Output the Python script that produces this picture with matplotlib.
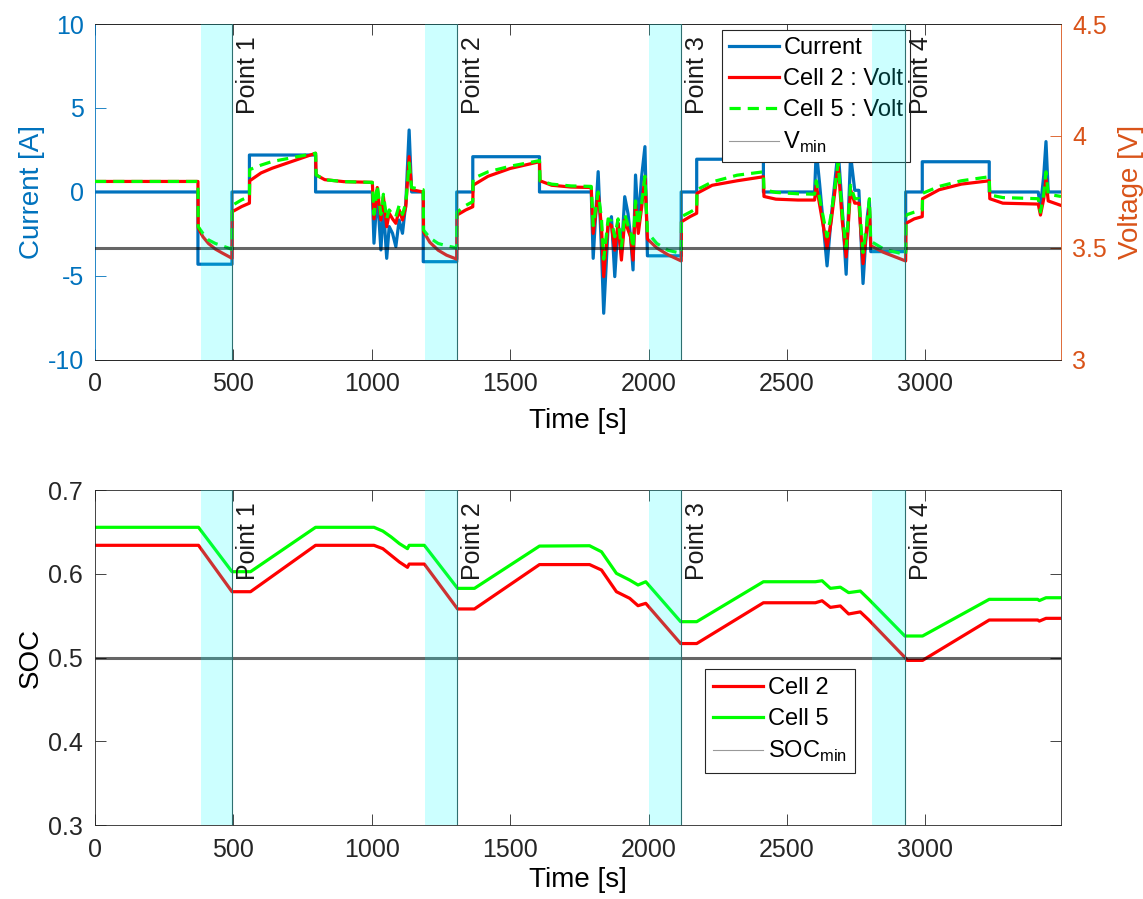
import matplotlib
matplotlib.use("Agg")
import matplotlib.pyplot as plt
from matplotlib.lines import Line2D
from matplotlib.ticker import FormatStrFormatter

plt.rcParams['font.family'] = ['Liberation Sans', 'DejaVu Sans']
plt.rcParams['mathtext.fontset'] = 'custom'
plt.rcParams['mathtext.rm'] = 'Liberation Sans'
plt.rcParams['axes.unicode_minus'] = False

# current profile [A]
t_cur = [0, 372, 372, 495, 495, 558, 558, 797, 797, 1002,
         1008, 1020, 1033, 1042, 1054, 1063, 1075, 1087, 1099, 1111,
         1123, 1135, 1144, 1186, 1186, 1307, 1307, 1365, 1365, 1606,
         1606, 1793, 1800, 1818, 1830, 1838, 1854, 1866, 1878, 1890,
         1902, 1914, 1926, 1935, 1944, 1953, 1963, 1975, 1987, 1996,
         2118, 2118, 2174, 2174, 2415, 2415, 2600, 2606, 2618, 2645,
         2660, 2685, 2700, 2714, 2730, 2745, 2760, 2775, 2790, 2798,
         2803, 2929, 2929, 2989, 2989, 3231, 3231, 3408, 3416, 3428,
         3436, 3444, 3490]
current = [0, 0, -4.3, -4.3, 0, 0, 2.2, 2.2, 0, 0,
           -3.05, 0, -3.45, -0.87, -3.95, -2.06, -2.46, -3.25, -1.67, -2.46,
           -0.67, 3.69, 0, 0, -4.15, -4.15, 0, 0, 2.1, 2.1,
           0, 0, -3.95, 1.21, -3.45, -7.22, -2.06, -1.47, -5.04, -1.86,
           -3.65, -0.28, -1.3, -2.66, -4.64, 1.01, -1.86, 0.91, 2.7, -3.8,
           -3.8, 0, 0, 1.95, 1.95, 0, 0, 2.5, 0.5, -4.4,
           -1.5, 2.5, -1.0, -4.9, 2.2, 0.1, 0.1, -5.45, -1.5, -0.5,
           -3.55, -3.55, 0, 0, 1.8, 1.8, 0, 0, -0.9, 1.0,
           3.0, 0, 0]

# cell voltages [V]
t_volt = [0, 372, 373, 390, 410, 435, 459, 495, 496, 530,
          558, 559, 600, 640, 720, 797, 799, 830, 900, 1002,
          1008, 1020, 1033, 1042, 1054, 1063, 1075, 1087, 1099, 1111,
          1123, 1135, 1144, 1186, 1187, 1210, 1240, 1270, 1307, 1308,
          1340, 1365, 1366, 1420, 1500, 1606, 1608, 1650, 1720, 1793,
          1800, 1818, 1830, 1838, 1854, 1866, 1878, 1890, 1902, 1914,
          1926, 1935, 1944, 1953, 1963, 1975, 1987, 1996, 2030, 2070,
          2118, 2119, 2150, 2174, 2175, 2230, 2320, 2415, 2417, 2460,
          2540, 2600, 2606, 2645, 2660, 2685, 2700, 2714, 2730, 2745,
          2760, 2775, 2790, 2798, 2803, 2850, 2929, 2930, 2960, 2989,
          2990, 3050, 3130, 3231, 3233, 3280, 3408, 3416, 3428, 3436,
          3444, 3490]
volt_cell2 = [3.797, 3.797, 3.59, 3.55, 3.52, 3.495, 3.478, 3.454, 3.662, 3.685,
              3.70, 3.80, 3.835, 3.856, 3.89, 3.923, 3.826, 3.805, 3.796, 3.793,
              3.63, 3.77, 3.625, 3.73, 3.595, 3.655, 3.63, 3.61, 3.67, 3.625,
              3.684, 3.908, 3.76, 3.75, 3.573, 3.525, 3.49, 3.468, 3.45, 3.647,
              3.67, 3.684, 3.78, 3.82, 3.855, 3.885, 3.80, 3.78, 3.772, 3.77,
              3.565, 3.744, 3.595, 3.372, 3.61, 3.60, 3.49, 3.61, 3.446, 3.625,
              3.58, 3.55, 3.446, 3.70, 3.565, 3.68, 3.82, 3.54, 3.50, 3.47,
              3.442, 3.617, 3.64, 3.655, 3.744, 3.78, 3.80, 3.818, 3.73, 3.718,
              3.714, 3.714, 3.78, 3.50, 3.62, 3.87, 3.62, 3.46, 3.76, 3.70,
              3.70, 3.43, 3.60, 3.68, 3.51, 3.48, 3.442, 3.61, 3.63, 3.64,
              3.72, 3.76, 3.785, 3.80, 3.72, 3.70, 3.696, 3.647, 3.72, 3.81,
              3.71, 3.69]
volt_cell5 = [3.797, 3.797, 3.595, 3.565, 3.536, 3.52, 3.51, 3.494, 3.69, 3.715,
              3.73, 3.85, 3.87, 3.886, 3.905, 3.923, 3.826, 3.805, 3.796, 3.793,
              3.65, 3.78, 3.65, 3.74, 3.63, 3.67, 3.65, 3.64, 3.69, 3.65,
              3.70, 3.88, 3.77, 3.76, 3.58, 3.545, 3.52, 3.51, 3.50, 3.66,
              3.69, 3.707, 3.81, 3.84, 3.865, 3.89, 3.80, 3.785, 3.777, 3.775,
              3.60, 3.75, 3.63, 3.45, 3.63, 3.62, 3.55, 3.63, 3.50, 3.65,
              3.60, 3.58, 3.50, 3.71, 3.60, 3.70, 3.82, 3.57, 3.52, 3.49,
              3.476, 3.64, 3.66, 3.677, 3.76, 3.795, 3.825, 3.84, 3.76, 3.748,
              3.742, 3.74, 3.80, 3.55, 3.65, 3.88, 3.65, 3.50, 3.78, 3.72,
              3.72, 3.48, 3.62, 3.72, 3.53, 3.495, 3.47, 3.647, 3.66, 3.67,
              3.744, 3.775, 3.80, 3.818, 3.737, 3.725, 3.72, 3.66, 3.74, 3.84,
              3.74, 3.73]

# state of charge
t_soc = [0, 374, 495, 562, 797, 1008, 1040, 1070, 1100, 1129,
         1135, 1190, 1310, 1371, 1606, 1787, 1830, 1884, 1932, 1962,
         1990, 2116, 2174, 2415, 2603, 2627, 2657, 2693, 2723, 2765,
         2796, 2926, 2935, 2990, 3231, 3406, 3412, 3436, 3490]
soc_cell2 = [0.634, 0.634, 0.5786, 0.5786, 0.634, 0.634, 0.630, 0.622, 0.614, 0.6077,
             0.6116, 0.6116, 0.558, 0.558, 0.611, 0.611, 0.6045, 0.5786, 0.5707, 0.5619,
             0.5647, 0.5167, 0.5167, 0.5654, 0.5654, 0.5678, 0.5599, 0.5616, 0.552, 0.5545,
             0.5448, 0.5002, 0.4966, 0.4966, 0.5448, 0.5448, 0.5435, 0.5468, 0.5468]
soc_cell5 = [0.6555, 0.6555, 0.6025, 0.6025, 0.6555, 0.6555, 0.651, 0.644, 0.636, 0.630,
             0.634, 0.634, 0.5826, 0.5826, 0.6331, 0.6335, 0.6263, 0.6005, 0.5925, 0.5866,
             0.5905, 0.5428, 0.5428, 0.5905, 0.5905, 0.5917, 0.5826, 0.584, 0.5775, 0.5794,
             0.5695, 0.5257, 0.5257, 0.5257, 0.5695, 0.5695, 0.568, 0.5714, 0.5714]

band_start = [384, 1192, 2002, 2809]
point_t = [496, 1308, 2116, 2925]
point_labels = ["Point 1", "Point 2", "Point 3", "Point 4"]
v_min = 3.5
soc_min = 0.5

BLUE = '#0072BD'
ORANGE = '#D95319'
EDGE = '#262626'

fig = plt.figure(figsize=(11.43, 8.99), dpi=100)
ax = fig.add_axes([0.0831, 0.5996, 0.8451, 0.3737])
ax2 = ax.twinx()
axb = fig.add_axes([0.0831, 0.0823, 0.8451, 0.3726])

# ---- top: current + voltage
ax.plot(t_cur, current, color=BLUE, lw=2.3)
l_v2, = ax2.plot(t_volt, volt_cell2, color='r', lw=2.3)
l_v5, = ax2.plot(t_volt, volt_cell5, color=(0, 1, 0), lw=2.3, ls=(0, (3.5, 2.2)))
ax2.axhline(v_min, color='k', alpha=0.6, lw=2.2, zorder=2.5)

ax.set_xlim(0, 3490)
ax.set_ylim(-10, 10)
ax2.set_ylim(3, 4.5)
ax.set_yticks([-10, -5, 0, 5, 10])
ax2.set_yticks([3, 3.5, 4, 4.5])
ax2.yaxis.set_major_formatter(FormatStrFormatter('%g'))
ax.set_xticks(range(0, 3001, 500))
ax.set_xlabel("Time [s]", fontsize=20, labelpad=8)
ax.set_ylabel("Current [A]", fontsize=20, color=BLUE, labelpad=2)
ax2.set_ylabel("Voltage [V]", fontsize=20, color=ORANGE, labelpad=8)

ax.tick_params(axis='x', direction='in', top=True, length=8, width=0.6,
               labelsize=18, pad=9, colors=EDGE)
ax.tick_params(axis='y', direction='in', length=8, width=0.6, labelsize=18,
               pad=8, colors=BLUE)
ax2.tick_params(axis='y', direction='in', length=8, width=0.6, labelsize=18,
                pad=8, colors=ORANGE)
ax.spines['right'].set_visible(False)
ax2.spines['left'].set_visible(False)
ax.spines['left'].set_color(BLUE)
ax2.spines['right'].set_color(ORANGE)
for s in ['top', 'bottom']:
    ax.spines[s].set_color(EDGE)
    ax2.spines[s].set_color(EDGE)
for a in (ax, ax2):
    for s in a.spines.values():
        s.set_linewidth(0.6)

leg = ax2.legend([Line2D([], [], color=BLUE, lw=2.3), l_v2, l_v5,
                  Line2D([], [], color='0.6', lw=0.8)],
                 ["Current", "Cell 2 : Volt", "Cell 5 : Volt", r"V$_{\mathregular{min}}$"],
                 loc='upper left', bbox_to_anchor=(0.649, 0.982), borderaxespad=0,
                 fontsize=17, fancybox=False, edgecolor=EDGE, framealpha=1,
                 handlelength=2.1, labelspacing=0.38, handletextpad=0.2,
                 borderpad=0.3)
leg.get_frame().set_linewidth(0.8)

# ---- bottom: SOC
axb.plot(t_soc, soc_cell5, color=(0, 1, 0), lw=2.3, label="Cell 5")
axb.plot(t_soc, soc_cell2, color='r', lw=2.3, label="Cell 2")
axb.axhline(soc_min, color='k', alpha=0.6, lw=2.2, zorder=2.5)
axb.set_xlim(0, 3490)
axb.set_ylim(0.3, 0.7)
axb.set_yticks([0.3, 0.4, 0.5, 0.6, 0.7])
axb.set_xticks(range(0, 3001, 500))
axb.set_xlabel("Time [s]", fontsize=20, labelpad=4)
axb.set_ylabel("SOC", fontsize=20, labelpad=3)
axb.tick_params(direction='in', top=True, right=True, length=8, width=0.6,
                labelsize=18, pad=9, colors=EDGE)
for s in axb.spines.values():
    s.set_color(EDGE)
    s.set_linewidth(0.6)
h, l = axb.get_legend_handles_labels()
legb = axb.legend([h[1], h[0], Line2D([], [], color='0.6', lw=0.8)],
                  ["Cell 2", "Cell 5", r"SOC$_{\mathregular{min}}$"],
                  loc='upper left', bbox_to_anchor=(0.6315, 0.4657), borderaxespad=0,
                  fontsize=17, fancybox=False, edgecolor=EDGE, framealpha=1,
                  handlelength=2.1, labelspacing=0.38, handletextpad=0.2,
                  borderpad=0.35)
legb.get_frame().set_linewidth(0.8)

# ---- highlighted windows and points
for a in (ax2, axb):
    for t0, t1, name in zip(band_start, point_t, point_labels):
        a.axvspan(t0, t1, color='cyan', alpha=0.2, lw=0, zorder=6)
        a.axvline(t1, color='#2f6f70', lw=0.8, zorder=7)
        a.annotate(name, xy=(t1, 1), xycoords=('data', 'axes fraction'),
                   xytext=(3, -9), textcoords='offset points', rotation=90,
                   ha='left', va='top', fontsize=18, color='#1a1a1a', zorder=8)

fig.savefig("out.png", dpi=100)
